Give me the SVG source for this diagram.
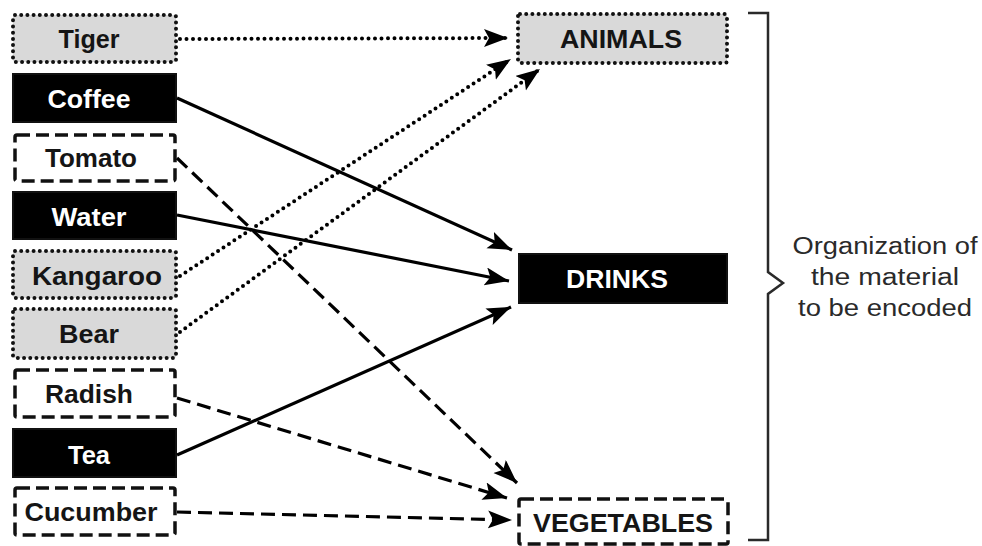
<svg xmlns="http://www.w3.org/2000/svg" width="982" height="546" viewBox="0 0 982 546">
  <defs>
    <style>
      .box { stroke: #111; stroke-width: 3.5; }
      .dotted { fill: #d9d9d9; stroke-dasharray: 0 6.2; stroke-linecap: round; stroke-width: 4; }
      .dashed { fill: #ffffff; stroke-dasharray: 13 6; }
      .solid { fill: #000000; stroke-width: 2; }
      .lbl { font-family: "Liberation Sans", Arial, sans-serif; font-weight: bold; font-size: 25px; text-anchor: middle; }
      .dark { fill: #151515; }
      .light { fill: #ffffff; }
      .note { font-family: "Liberation Sans", Arial, sans-serif; font-size: 23px; fill: #2a2a2a; text-anchor: middle; }
      .link { fill: none; stroke: #000; stroke-width: 3.2; }
      .link.dot { stroke-dasharray: 0 6.5; stroke-linecap: round; stroke-width: 4; }
      .link.dash { stroke-dasharray: 14 7; }
    </style>
    <marker id="head" markerUnits="userSpaceOnUse" markerWidth="26" markerHeight="20" refX="24" refY="9" orient="auto">
      <path d="M0,0 L24,9 L0,18 L5,9 Z" fill="#000"/>
    </marker>
  </defs>

  <rect width="982" height="546" fill="#ffffff"/>

  <!-- left column: items -->
  <g id="tiger"><rect class="box dotted" x="13" y="15" width="163" height="47" rx="2"/><text class="lbl dark" x="89" y="48" textLength="61" lengthAdjust="spacingAndGlyphs">Tiger</text></g>
  <g id="coffee"><rect class="box solid" x="13" y="74" width="163" height="48"/><text class="lbl light" x="89" y="108" textLength="83" lengthAdjust="spacingAndGlyphs">Coffee</text></g>
  <g id="tomato"><rect class="box dashed" x="15" y="135" width="160" height="46" rx="2"/><text class="lbl dark" x="91" y="167" textLength="92" lengthAdjust="spacingAndGlyphs">Tomato</text></g>
  <g id="water"><rect class="box solid" x="13" y="192" width="163" height="47"/><text class="lbl light" x="89" y="226" textLength="75" lengthAdjust="spacingAndGlyphs">Water</text></g>
  <g id="kangaroo"><rect class="box dotted" x="13" y="251" width="163" height="47" rx="2"/><text class="lbl dark" x="97" y="285" textLength="130" lengthAdjust="spacingAndGlyphs">Kangaroo</text></g>
  <g id="bear"><rect class="box dotted" x="13" y="309" width="163" height="49" rx="2"/><text class="lbl dark" x="89" y="343" textLength="60" lengthAdjust="spacingAndGlyphs">Bear</text></g>
  <g id="radish"><rect class="box dashed" x="15" y="370" width="160" height="47" rx="2"/><text class="lbl dark" x="89" y="403" textLength="88" lengthAdjust="spacingAndGlyphs">Radish</text></g>
  <g id="tea"><rect class="box solid" x="13" y="429" width="163" height="48"/><text class="lbl light" x="89" y="464" textLength="42" lengthAdjust="spacingAndGlyphs">Tea</text></g>
  <g id="cucumber"><rect class="box dashed" x="15" y="488" width="160" height="47" rx="2"/><text class="lbl dark" x="91" y="521" textLength="133" lengthAdjust="spacingAndGlyphs">Cucumber</text></g>

  <!-- right column: categories -->
  <g id="animals"><rect class="box dotted" x="518" y="14" width="209" height="49" rx="2"/><text class="lbl dark" x="621" y="48" textLength="122" lengthAdjust="spacingAndGlyphs">ANIMALS</text></g>
  <g id="drinks"><rect class="box solid" x="519" y="254" width="208" height="49"/><text class="lbl light" x="617" y="288" textLength="102" lengthAdjust="spacingAndGlyphs">DRINKS</text></g>
  <g id="vegetables"><rect class="box dashed" x="519" y="499" width="209" height="45" rx="2"/><text class="lbl dark" x="623" y="532" textLength="180" lengthAdjust="spacingAndGlyphs">VEGETABLES</text></g>

  <!-- connectors -->
  <g id="connectors">
    <path class="link dot" d="M180,39 L508,38" marker-end="url(#head)"/>
    <path class="link dot" d="M180,276 L511,59" marker-end="url(#head)"/>
    <path class="link dot" d="M180,332 L540,69" marker-end="url(#head)"/>
    <path class="link" d="M177,98 L512,250" marker-end="url(#head)"/>
    <path class="link" d="M177,215 L509,281" marker-end="url(#head)"/>
    <path class="link" d="M177,455 L511,307" marker-end="url(#head)"/>
    <path class="link dash" d="M177,158 L517,483" marker-end="url(#head)"/>
    <path class="link dash" d="M177,398 L507,498" marker-end="url(#head)"/>
    <path class="link dash" d="M177,512 L512,520" marker-end="url(#head)"/>
  </g>

  <!-- brace and caption -->
  <g id="brace">
    <path d="M748,13 L768,13 L768,272 L783,283 L768,294 L768,540 L748,540" fill="none" stroke="#2a2a2a" stroke-width="2.5"/>
    <text class="note" x="885" y="254" textLength="185" lengthAdjust="spacingAndGlyphs">Organization of</text>
    <text class="note" x="885" y="285" textLength="148" lengthAdjust="spacingAndGlyphs">the material</text>
    <text class="note" x="885" y="316" textLength="174" lengthAdjust="spacingAndGlyphs">to be encoded</text>
  </g>
</svg>
